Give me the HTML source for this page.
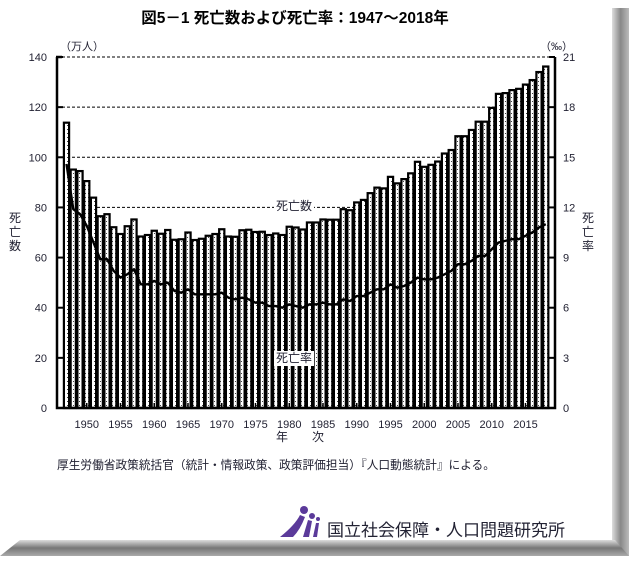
<!DOCTYPE html>
<html><head><meta charset="utf-8"><style>
body{margin:0;background:#fff;}
svg text{font-family:"Liberation Sans","Noto Sans CJK JP",sans-serif;}
</style></head><body>
<svg width="629" height="556" viewBox="0 0 629 556" xmlns="http://www.w3.org/2000/svg">
<defs>
<pattern id="dots" width="3" height="4" patternUnits="userSpaceOnUse"><rect width="3" height="4" fill="#fff"/><rect x="1" y="1" width="1" height="1" fill="#444"/></pattern>
<linearGradient id="gr" x1="0" x2="1"><stop offset="0" stop-color="#ddd"/><stop offset="0.5" stop-color="#888"/><stop offset="1" stop-color="#bbb"/></linearGradient>
<linearGradient id="gb" x1="0" y1="0" x2="0" y2="1"><stop offset="0" stop-color="#ddd"/><stop offset="0.5" stop-color="#777"/><stop offset="1" stop-color="#aaa"/></linearGradient>
</defs>
<rect x="612" y="8" width="17" height="548" fill="url(#gr)"/>
<polygon points="0,556 20,540 615,540 629,556" fill="url(#gb)"/>
<text x="295" y="23" font-size="15.5" font-weight="bold" text-anchor="middle" fill="#000">図5－1 死亡数および死亡率：1947～2018年</text>
<g id="plot"></g>
<text x="60" y="50" font-size="11" fill="#223">（万人）</text>
<text x="540" y="50" font-size="11" fill="#223">（‰）</text>
<g font-size="12" fill="#223"><text x="9" y="222">死</text><text x="9" y="236">亡</text><text x="9" y="250">数</text></g>
<g font-size="12" fill="#223"><text x="582" y="222">死</text><text x="582" y="236">亡</text><text x="582" y="250">率</text></g>
<text x="300" y="441" font-size="12" fill="#223" text-anchor="middle">年　　次</text>
<text x="57" y="469" font-size="11.7" fill="#223">厚生労働省政策統括官（統計・情報政策、政策評価担当）『人口動態統計』による。</text>
<g>
<circle cx="304" cy="510" r="4" fill="#5b3a9a"/><circle cx="312" cy="516" r="3" fill="#5b3a9a"/><circle cx="318" cy="519" r="2" fill="#5b3a9a"/>
<path d="M280 537 Q295 525 300 515 L305 517 Q300 530 293 537 Z M303 537 L308 520 L312 521 L309 537 Z M313 537 L316 523 L319 523 L317 537Z" fill="#5b3a9a"/>
<text x="327" y="536" font-size="17" fill="#223">国立社会保障・人口問題研究所</text>
</g>
<script>
const years=[];for(let y=1947;y<=2018;y++)years.push(y);
const deaths=[113.8,95.1,94.5,90.5,83.9,76.5,77.3,72.1,69.4,72.5,75.2,68.4,69.0,70.7,69.5,71.0,67.1,67.3,70.0,67.0,67.5,68.7,69.4,71.3,68.4,68.3,70.9,71.1,70.2,70.3,69.0,69.6,69.0,72.3,72.0,71.2,74.0,74.0,75.2,75.1,75.1,79.3,78.9,82.0,83.0,85.7,87.9,87.6,92.2,89.6,91.3,93.6,98.2,96.2,97.0,98.3,101.5,102.9,108.4,108.4,110.9,114.2,114.2,119.7,125.3,125.6,126.8,127.3,129.0,130.8,134.0,136.2];
const rates=[14.6,11.9,11.6,10.9,9.9,8.9,8.9,8.2,7.8,8.0,8.3,7.4,7.4,7.6,7.4,7.5,7.0,6.9,7.1,6.8,6.8,6.8,6.8,6.9,6.6,6.5,6.6,6.5,6.3,6.3,6.1,6.1,6.0,6.2,6.1,6.0,6.2,6.2,6.3,6.2,6.2,6.5,6.4,6.7,6.7,6.9,7.1,7.1,7.4,7.2,7.3,7.5,7.8,7.7,7.7,7.8,8.0,8.2,8.6,8.6,8.8,9.1,9.1,9.5,9.9,10.0,10.1,10.1,10.3,10.5,10.8,11.0];
const leftTicks=[0,20,40,60,80,100,120,140];
const rightTicks=[0,3,6,9,12,15,18,21];
const xLabels=[1950,1955,1960,1965,1970,1975,1980,1985,1990,1995,2000,2005,2010,2015];
const L=57,R=555,T=57,B=408;
const x=yr=>66.5+(yr-1947)*6.75;
const yL=v=>B-(v/140)*(B-T);
const yR=v=>B-(v/21)*(B-T);
const NS='http://www.w3.org/2000/svg';
const g=document.getElementById('plot');
function mk(t,a,p){const e=document.createElementNS(NS,t);for(const k in a)e.setAttribute(k,a[k]);(p||g).appendChild(e);return e;}
leftTicks.forEach(v=>{if(v>=80){const ln=mk('line',{x1:L,x2:R,y1:yL(v),y2:yL(v),stroke:'#000','stroke-width':1,'stroke-dasharray':'3,2'});

}});
years.forEach((yr,i)=>{const r=mk('rect',{x:x(yr)-2.6,y:yL(deaths[i]),width:5.2,height:B-yL(deaths[i]),fill:'url(#dots)',stroke:'#000','stroke-width':2.2});

});
const pts=years.map((yr,i)=>x(yr)+','+yR(rates[i])).join(' ');
const pl=mk('polyline',{points:pts,fill:'none',stroke:'#000','stroke-width':2.4,'stroke-linejoin':'round'});


const ax=mk('path',{d:`M${L},${T} L${L},${B} L${R},${B} L${R},${T}`,fill:'none',stroke:'#000','stroke-width':2.5});


mk('line',{x1:L-1,x2:L+5,y1:T,y2:T,stroke:'#000','stroke-width':2.5});
leftTicks.forEach(v=>{mk('line',{x1:L,x2:L+6,y1:yL(v),y2:yL(v),stroke:'#000','stroke-width':2});
const t=mk('text',{x:L-10,y:yL(v)+4,'font-size':11,'text-anchor':'end',fill:'#223'});t.textContent=v;

});
rightTicks.forEach(v=>{mk('line',{x1:R-6,x2:R,y1:yR(v),y2:yR(v),stroke:'#000','stroke-width':2});
const t=mk('text',{x:R+8,y:yR(v)+4,'font-size':11,fill:'#223'});t.textContent=v;

});
xLabels.forEach(v=>{mk('line',{x1:x(v),x2:x(v),y1:B-5,y2:B,stroke:'#000','stroke-width':1.5});
const t=mk('text',{x:x(v),y:428,'font-size':11,'text-anchor':'middle',fill:'#223'});t.textContent=v;

});
function lab(txt,cx,cy,n){mk('rect',{x:cx-2,y:cy-11,width:40,height:15,fill:'#fff'});
const t=mk('text',{x:cx,y:cy,'font-size':12,fill:'#223'});t.textContent=txt;

}
lab('死亡数',276,210,'deaths-series-label');
lab('死亡率',276,362,'rate-series-label');
</script>
</svg>
</body></html>
